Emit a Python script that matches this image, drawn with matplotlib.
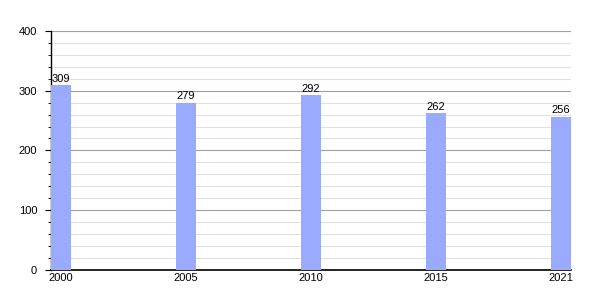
import numpy as np
import matplotlib
matplotlib.use("Agg")
import matplotlib.pyplot as plt
from matplotlib.ticker import MultipleLocator

years = ["2000", "2005", "2010", "2015", "2021"]
population = [309, 279, 292, 262, 256]

plt.rcParams['font.family'] = ['Liberation Sans', 'DejaVu Sans']

fig = plt.figure(figsize=(6, 3), dpi=100)
ax = fig.add_axes([0.085, 0.1, 0.867, 0.797])

x = np.arange(len(years))
width = 0.16
ax.bar(x, population, width, color='#99aaff', zorder=3)

for xi, v in zip(x, population):
    ax.text(xi, v + 3, str(v), ha='center', va='bottom', fontsize=8, zorder=4)

ax.set_xlim(-width / 2, len(years) - 1 + width / 2)
ax.set_ylim(0, 400)
ax.set_xticks(x)
ax.set_xticklabels(years, fontsize=8)
ax.tick_params(axis='x', length=0, pad=2)

ax.yaxis.set_major_locator(MultipleLocator(100))
ax.yaxis.set_minor_locator(MultipleLocator(20))
ax.tick_params(axis='y', which='major', length=4.5, labelsize=8, pad=5.5)
ax.tick_params(axis='y', which='minor', length=2.2)

ax.grid(axis='y', which='major', color='#a0a0a0', linewidth=0.8, zorder=1)
ax.grid(axis='y', which='minor', color='#e0e0e0', linewidth=0.8, zorder=0)

for s in ['top', 'right']:
    ax.spines[s].set_visible(False)
ax.spines['left'].set_linewidth(1)
ax.spines['bottom'].set_linewidth(1.2)

fig.savefig("out.png", dpi=100)
